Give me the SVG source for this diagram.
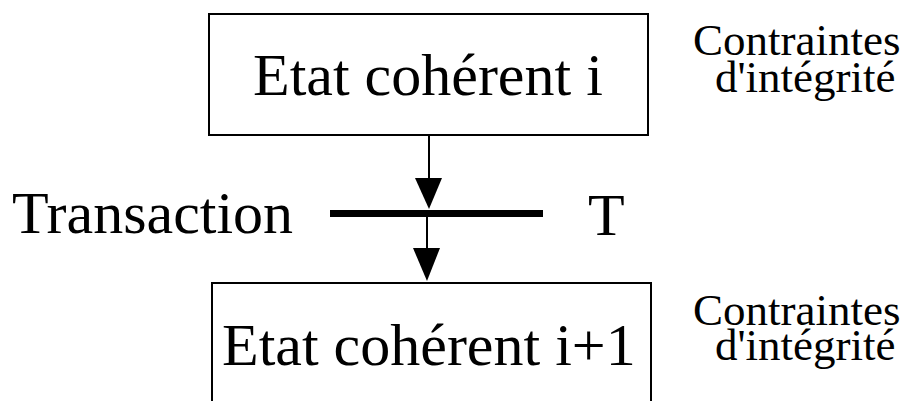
<svg xmlns="http://www.w3.org/2000/svg" width="909" height="401" viewBox="0 0 909 401">
<style>
.box{fill:#fff;stroke:#000;stroke-width:2}
.t{font-family:"Liberation Serif","Times New Roman",serif;fill:#000}
.big{font-size:60px}
.small{font-size:45px}
.ln{stroke:#000;stroke-width:2;fill:none}
.head{fill:#000}
</style>
<rect width="909" height="401" fill="#fff"/>
<g id="etat-i">
<rect class="box" x="209" y="14" width="439" height="121"/>
<text class="t big" x="253" y="95">Etat cohérent i</text>
</g>
<g id="etat-i1">
<rect class="box" x="212" y="283" width="439" height="130"/>
<text class="t big" x="222" y="365">Etat cohérent i+1</text>
</g>
<g id="transaction">
<rect x="330" y="210" width="213" height="7" fill="#000"/>
<text class="t big" x="12" y="233">Transaction</text>
<text class="t big" x="588" y="235">T</text>
</g>
<g id="contraintes-1">
<text class="t small" x="693" y="55">Contraintes</text>
<text class="t small" x="715" y="92">d'intégrité</text>
</g>
<g id="contraintes-2">
<text class="t small" x="693" y="325">Contraintes</text>
<text class="t small" x="715" y="360">d'intégrité</text>
</g>
<g id="connectors">
<line class="ln" x1="429" y1="135" x2="429" y2="180"/>
<polygon class="head" points="415,178 442,178 429,209"/>
<line class="ln" x1="427" y1="217" x2="427" y2="250"/>
<polygon class="head" points="413,248 440,248 427,281"/>
</g>
</svg>
